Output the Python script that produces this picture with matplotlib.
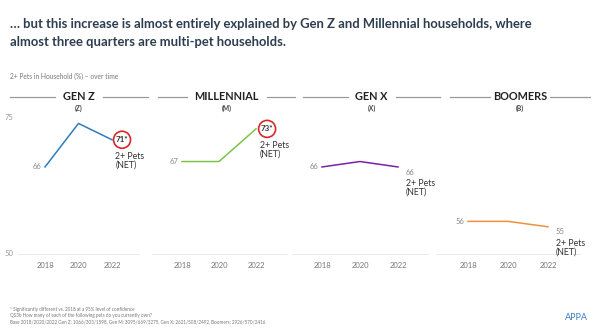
import matplotlib.pyplot as plt

plt.rcParams["font.family"] = ["Lato", "DejaVu Sans"]

# Data
years = [2018, 2020, 2022]
groups = ["GEN Z", "MILLENNIAL", "GEN X", "BOOMERS"]
letters = ["(Z)", "(M)", "(X)", "(B)"]
genz = [66, 74, 71]
millennial = [67, 67, 73]
genx = [66, 67, 66]
boomers = [56, 56, 55]
end_labels = ["71*", "73*", "66", "55"]
significant = [True, True, False, False]

series = [genz, millennial, genx, boomers]
colors = ["#2f7cc0", "#7dc24b", "#7e1fa6", "#f0913d"]

W, H = 600, 330
fig = plt.figure(figsize=(6, 3.3), dpi=100)
fig.patch.set_facecolor("white")

# Title
fig.text(10 / W, 1 - 24 / H,
         "\u2026 but this increase is almost entirely explained by Gen Z and Millennial households, where",
         fontsize=9.4, fontweight="bold", color="#2d3e50", va="center")
fig.text(10 / W, 1 - 42 / H, "almost three quarters are multi-pet households.",
         fontsize=9.4, fontweight="bold", color="#2d3e50", va="center")
fig.text(10 / W, 1 - 76 / H, "2+ Pets in Household (%) \u2013 over time",
         fontsize=4.8, color="#777777", va="center")

# panel geometry in pixels: x position of 2018 and 2022, header line span
x2018 = [45, 182, 322, 468]
x2022 = [112, 256, 398, 548]
hdr_span = [(10, 148), (158, 295), (303, 440), (450, 590)]
y75, y50 = 118, 254

for i, vals in enumerate(series):
    px = (x2022[i] - x2018[i]) / 4.0
    left = x2018[i] - px
    right = x2022[i] + px
    ax = fig.add_axes([left / W, 1 - y50 / H, (right - left) / W, (y50 - y75) / H])
    ax.set_xlim(2017, 2023)
    ax.set_ylim(50, 75)
    for s in ax.spines.values():
        s.set_visible(False)
    ax.set_yticks([])
    ax.set_xticks(years)
    ax.set_xticklabels([str(y) for y in years], fontsize=5.5, color="#777777")
    ax.tick_params(axis="x", length=0, pad=6)
    ax.axhline(50, color="#e6e6e6", lw=0.6, xmin=-0.1, xmax=1.1, clip_on=False)
    ax.plot(years, vals, color=colors[i], lw=1.1, clip_on=False)

    # start label
    ax.text(2017.8, vals[0], str(vals[0]), fontsize=5.5, color="#888888",
            ha="right", va="center")
    # end label
    if significant[i]:
        ax.text(2022.6, vals[2], end_labels[i], fontsize=5.8, fontweight="bold",
                color="#333333", ha="center", va="center")
        ax.scatter([2022.6], [vals[2]], s=150, facecolors="none",
                   edgecolors="#d62828", linewidths=1.2, clip_on=False)
        ax.text(2022.2, vals[2] - 2.2, "2+ Pets\n(NET)", fontsize=6.3,
                color="#333333", ha="left", va="top", linespacing=1.0)
    else:
        ax.text(2022.4, vals[2] - 0.3, end_labels[i], fontsize=5.5,
                color="#888888", ha="left", va="top")
        ax.text(2022.4, vals[2] - 2.2, "2+ Pets\n(NET)", fontsize=6.3,
                color="#333333", ha="left", va="top", linespacing=1.0)

    if i == 0:
        ax.text(-0.15, 1.0, "75", transform=ax.transAxes, fontsize=5.5,
                color="#999999", ha="right", va="center")
        ax.text(-0.15, 0.0, "50", transform=ax.transAxes, fontsize=5.5,
                color="#999999", ha="right", va="center")

    # header
    x0, x1 = hdr_span[i]
    cx = (x0 + x1) / 2.0
    fig.text(cx / W, 1 - 97 / H, groups[i], fontsize=7.8, fontweight="bold",
             color="#222222", ha="center", va="center")
    fig.text(cx / W, 1 - 108 / H, letters[i], fontsize=4.8, fontweight="bold",
             color="#444444", ha="center", va="center")
    half = len(groups[i]) * 3.2 + 8
    fig.add_artist(plt.Line2D([x0 / W, (cx - half) / W], [1 - 97 / H, 1 - 97 / H],
                              color="#999999", lw=0.9))
    fig.add_artist(plt.Line2D([(cx + half) / W, x1 / W], [1 - 97 / H, 1 - 97 / H],
                              color="#999999", lw=0.9))

# Footnotes
notes = ["* Significantly different vs. 2018 at a 95% level of confidence",
         "QS3b How many of each of the following pets do you currently own?",
         "Base 2018/2020/2022 Gen Z: 1066/303/1598, Gen M: 3095/669/3275, "
         "Gen X: 2621/508/2492, Boomers: 2926/570/2416"]
for k, t in enumerate(notes):
    fig.text(10 / W, 1 - (309 + k * 6.5) / H, t, fontsize=3.3, color="#777777",
             va="center")
fig.text(588 / W, 1 - 318 / H, "APPA", fontsize=6.5, color="#3a7cc0",
         ha="right", va="center")

fig.savefig("out.png", dpi=100)
